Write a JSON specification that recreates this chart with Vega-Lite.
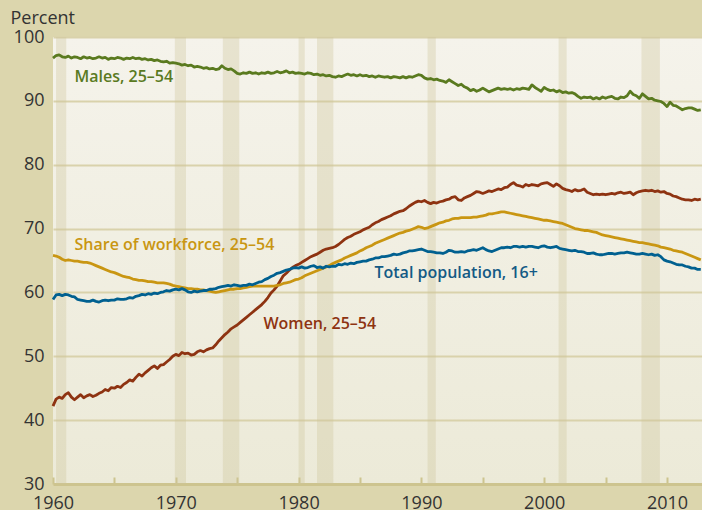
{
"$schema":"https://vega.github.io/schema/vega-lite/v6.json",
"width":649,"height":447,
"autosize":{"type":"none"},
"padding":{"left":53,"top":37,"right":0,"bottom":26},
"background":"#dcd6ad",
"config":{
 "view":{"stroke":null,"fill":{"gradient":"linear","x1":0,"y1":0,"x2":0,"y2":1,"stops":[{"offset":0,"color":"#f5f3eb"},{"offset":1,"color":"#ecead8"}]}},
 "axisY":{"grid":true,"gridColor":"#d9d2ab","gridWidth":2,"domain":false,"ticks":false,"labelFont":"Open Sans","labelFontSize":18,"labelColor":"#333333","labelPadding":9,"titleAngle":0,"titleAlign":"left","titleBaseline":"middle","titleX":-43,"titleY":-19,"titleFont":"Open Sans","titleFontSize":18,"titleFontWeight":"normal","titleColor":"#333333"},
 "axisX":{"grid":false,"domain":true,"domainColor":"#cdc48f","domainWidth":3,"ticks":true,"tickSize":-7,"tickWidth":2,"tickColor":"#cdc48f","labelFont":"Open Sans","labelFontSize":18,"labelColor":"#333333","labelPadding":17,"labelFlush":false,"labelBound":false,"labelOverlap":false,"title":null}
},
"data":{"values":[
{"t":1960,"m":96.7,"w":42.2,"s":65.8,"p":58.9},{"t":1960.25,"m":97.1,"w":43.3,"s":65.7,"p":59.6},{"t":1960.5,"m":97.2,"w":43.6,"s":65.5,"p":59.7},{"t":1960.75,"m":96.9,"w":43.4,"s":65.2,"p":59.5},
{"t":1961,"m":96.8,"w":44.0,"s":65.0,"p":59.7},{"t":1961.25,"m":97.0,"w":44.3,"s":65.1,"p":59.6},{"t":1961.5,"m":96.7,"w":43.6,"s":65.0,"p":59.4},{"t":1961.75,"m":96.9,"w":43.2,"s":64.9,"p":59.3},
{"t":1962,"m":96.8,"w":43.6,"s":64.9,"p":58.9},{"t":1962.25,"m":96.6,"w":44.0,"s":64.8,"p":58.8},{"t":1962.5,"m":96.9,"w":43.5,"s":64.7,"p":58.7},{"t":1962.75,"m":96.7,"w":43.8,"s":64.7,"p":58.6},
{"t":1963,"m":96.8,"w":44.0,"s":64.6,"p":58.6},{"t":1963.25,"m":96.6,"w":43.7,"s":64.4,"p":58.8},{"t":1963.5,"m":96.7,"w":43.9,"s":64.2,"p":58.6},{"t":1963.75,"m":96.9,"w":44.2,"s":64.0,"p":58.5},
{"t":1964,"m":96.7,"w":44.4,"s":63.8,"p":58.7},{"t":1964.25,"m":96.8,"w":44.8,"s":63.6,"p":58.8},{"t":1964.5,"m":96.5,"w":44.6,"s":63.4,"p":58.7},{"t":1964.75,"m":96.7,"w":45.1,"s":63.2,"p":58.8},
{"t":1965,"m":96.6,"w":45.0,"s":63.1,"p":58.8},{"t":1965.25,"m":96.8,"w":45.3,"s":62.9,"p":59.0},{"t":1965.5,"m":96.7,"w":45.1,"s":62.7,"p":58.9},{"t":1965.75,"m":96.5,"w":45.6,"s":62.5,"p":58.9},
{"t":1966,"m":96.7,"w":45.9,"s":62.4,"p":59.0},{"t":1966.25,"m":96.6,"w":46.3,"s":62.3,"p":59.2},{"t":1966.5,"m":96.8,"w":46.1,"s":62.1,"p":59.1},{"t":1966.75,"m":96.6,"w":46.7,"s":62.0,"p":59.4},
{"t":1967,"m":96.7,"w":47.2,"s":61.9,"p":59.5},{"t":1967.25,"m":96.5,"w":46.9,"s":61.9,"p":59.7},{"t":1967.5,"m":96.6,"w":47.4,"s":61.8,"p":59.6},{"t":1967.75,"m":96.4,"w":47.8,"s":61.7,"p":59.8},
{"t":1968,"m":96.5,"w":48.2,"s":61.7,"p":59.7},{"t":1968.25,"m":96.3,"w":48.5,"s":61.6,"p":59.9},{"t":1968.5,"m":96.4,"w":48.1,"s":61.5,"p":59.8},{"t":1968.75,"m":96.2,"w":48.6,"s":61.5,"p":60.0},
{"t":1969,"m":96.1,"w":48.7,"s":61.5,"p":60.1},{"t":1969.25,"m":96.2,"w":49.1,"s":61.4,"p":60.3},{"t":1969.5,"m":95.9,"w":49.5,"s":61.3,"p":60.2},{"t":1969.75,"m":96.0,"w":50.0,"s":61.1,"p":60.4},
{"t":1970,"m":95.9,"w":50.3,"s":61.0,"p":60.5},{"t":1970.25,"m":95.8,"w":50.1,"s":60.9,"p":60.4},{"t":1970.5,"m":95.6,"w":50.6,"s":60.8,"p":60.6},{"t":1970.75,"m":95.7,"w":50.4,"s":60.7,"p":60.4},
{"t":1971,"m":95.5,"w":50.5,"s":60.6,"p":60.1},{"t":1971.25,"m":95.6,"w":50.2,"s":60.6,"p":60.0},{"t":1971.5,"m":95.3,"w":50.3,"s":60.5,"p":60.2},{"t":1971.75,"m":95.4,"w":50.7,"s":60.5,"p":60.1},
{"t":1972,"m":95.3,"w":50.9,"s":60.4,"p":60.2},{"t":1972.25,"m":95.1,"w":50.7,"s":60.4,"p":60.3},{"t":1972.5,"m":95.2,"w":51.0,"s":60.3,"p":60.3},{"t":1972.75,"m":95.0,"w":51.2,"s":60.2,"p":60.5},
{"t":1973,"m":95.1,"w":51.3,"s":60.1,"p":60.5},{"t":1973.25,"m":94.9,"w":51.8,"s":60.0,"p":60.6},{"t":1973.5,"m":95.0,"w":52.4,"s":60.1,"p":60.8},{"t":1973.75,"m":95.5,"w":52.9,"s":60.2,"p":60.9},
{"t":1974,"m":95.1,"w":53.4,"s":60.3,"p":61.0},{"t":1974.25,"m":94.9,"w":53.8,"s":60.4,"p":61.1},{"t":1974.5,"m":95.0,"w":54.3,"s":60.5,"p":61.0},{"t":1974.75,"m":94.7,"w":54.6,"s":60.5,"p":61.2},
{"t":1975,"m":94.3,"w":54.9,"s":60.6,"p":61.1},{"t":1975.25,"m":94.2,"w":55.3,"s":60.6,"p":61.0},{"t":1975.5,"m":94.4,"w":55.7,"s":60.7,"p":61.1},{"t":1975.75,"m":94.3,"w":56.1,"s":60.8,"p":61.1},
{"t":1976,"m":94.5,"w":56.5,"s":60.9,"p":61.3},{"t":1976.25,"m":94.3,"w":56.9,"s":61.0,"p":61.2},{"t":1976.5,"m":94.4,"w":57.3,"s":61.0,"p":61.4},{"t":1976.75,"m":94.2,"w":57.7,"s":61.0,"p":61.6},
{"t":1977,"m":94.4,"w":58.1,"s":61.0,"p":61.7},{"t":1977.25,"m":94.3,"w":58.6,"s":61.0,"p":62.0},{"t":1977.5,"m":94.5,"w":59.2,"s":61.0,"p":62.2},{"t":1977.75,"m":94.3,"w":59.9,"s":61.0,"p":62.5},
{"t":1978,"m":94.4,"w":60.4,"s":61.0,"p":62.7},{"t":1978.25,"m":94.6,"w":61.0,"s":61.1,"p":63.0},{"t":1978.5,"m":94.4,"w":61.8,"s":61.2,"p":63.1},{"t":1978.75,"m":94.5,"w":62.6,"s":61.4,"p":63.3},
{"t":1979,"m":94.7,"w":63.0,"s":61.5,"p":63.5},{"t":1979.25,"m":94.4,"w":63.5,"s":61.6,"p":63.6},{"t":1979.5,"m":94.5,"w":63.9,"s":61.8,"p":63.8},{"t":1979.75,"m":94.3,"w":64.2,"s":62.0,"p":63.9},
{"t":1980,"m":94.4,"w":64.4,"s":62.1,"p":63.8},{"t":1980.25,"m":94.3,"w":64.7,"s":62.3,"p":64.0},{"t":1980.5,"m":94.2,"w":65.0,"s":62.6,"p":63.8},{"t":1980.75,"m":94.4,"w":65.3,"s":62.8,"p":63.9},
{"t":1981,"m":94.3,"w":65.6,"s":63.0,"p":64.1},{"t":1981.25,"m":94.1,"w":65.8,"s":63.2,"p":64.2},{"t":1981.5,"m":94.2,"w":66.0,"s":63.4,"p":63.9},{"t":1981.75,"m":94.0,"w":66.3,"s":63.6,"p":64.0},
{"t":1982,"m":94.1,"w":66.6,"s":63.8,"p":63.8},{"t":1982.25,"m":93.9,"w":66.8,"s":64.0,"p":64.1},{"t":1982.5,"m":94.0,"w":66.9,"s":64.2,"p":64.0},{"t":1982.75,"m":93.8,"w":67.0,"s":64.5,"p":64.1},
{"t":1983,"m":93.7,"w":67.2,"s":64.7,"p":64.1},{"t":1983.25,"m":93.9,"w":67.5,"s":64.9,"p":64.4},{"t":1983.5,"m":93.8,"w":67.9,"s":65.1,"p":64.3},{"t":1983.75,"m":94.0,"w":68.3,"s":65.4,"p":64.5},
{"t":1984,"m":94.2,"w":68.6,"s":65.6,"p":64.4},{"t":1984.25,"m":94.0,"w":68.8,"s":65.8,"p":64.6},{"t":1984.5,"m":94.1,"w":69.1,"s":66.0,"p":64.5},{"t":1984.75,"m":93.9,"w":69.3,"s":66.2,"p":64.7},
{"t":1985,"m":94.1,"w":69.5,"s":66.5,"p":64.8},{"t":1985.25,"m":93.9,"w":69.8,"s":66.7,"p":64.9},{"t":1985.5,"m":94.0,"w":70.0,"s":67.0,"p":64.9},{"t":1985.75,"m":93.8,"w":70.2,"s":67.2,"p":65.1},
{"t":1986,"m":93.9,"w":70.6,"s":67.4,"p":65.2},{"t":1986.25,"m":93.7,"w":70.9,"s":67.7,"p":65.4},{"t":1986.5,"m":93.9,"w":71.1,"s":67.9,"p":65.4},{"t":1986.75,"m":93.8,"w":71.4,"s":68.1,"p":65.6},
{"t":1987,"m":93.7,"w":71.6,"s":68.3,"p":65.6},{"t":1987.25,"m":93.8,"w":71.8,"s":68.5,"p":65.7},{"t":1987.5,"m":93.6,"w":72.0,"s":68.7,"p":65.8},{"t":1987.75,"m":93.8,"w":72.3,"s":68.9,"p":66.0},
{"t":1988,"m":93.7,"w":72.5,"s":69.1,"p":65.9},{"t":1988.25,"m":93.6,"w":72.7,"s":69.3,"p":66.0},{"t":1988.5,"m":93.8,"w":72.8,"s":69.4,"p":66.2},{"t":1988.75,"m":93.6,"w":73.1,"s":69.6,"p":66.3},
{"t":1989,"m":93.8,"w":73.5,"s":69.7,"p":66.5},{"t":1989.25,"m":93.7,"w":73.8,"s":69.9,"p":66.5},{"t":1989.5,"m":93.9,"w":74.1,"s":70.1,"p":66.6},{"t":1989.75,"m":94.1,"w":74.3,"s":70.3,"p":66.7},
{"t":1990,"m":94.0,"w":74.2,"s":70.2,"p":66.8},{"t":1990.25,"m":93.6,"w":74.4,"s":70.0,"p":66.6},{"t":1990.5,"m":93.4,"w":74.1,"s":70.1,"p":66.4},{"t":1990.75,"m":93.5,"w":73.9,"s":70.3,"p":66.4},
{"t":1991,"m":93.3,"w":74.1,"s":70.5,"p":66.3},{"t":1991.25,"m":93.4,"w":74.0,"s":70.7,"p":66.2},{"t":1991.5,"m":93.2,"w":74.2,"s":70.9,"p":66.2},{"t":1991.75,"m":93.1,"w":74.3,"s":71.0,"p":66.1},
{"t":1992,"m":92.9,"w":74.5,"s":71.2,"p":66.3},{"t":1992.25,"m":93.3,"w":74.6,"s":71.3,"p":66.6},{"t":1992.5,"m":93.0,"w":74.9,"s":71.5,"p":66.5},{"t":1992.75,"m":92.7,"w":75.0,"s":71.6,"p":66.3},
{"t":1993,"m":92.4,"w":74.5,"s":71.6,"p":66.3},{"t":1993.25,"m":92.6,"w":74.4,"s":71.7,"p":66.4},{"t":1993.5,"m":92.2,"w":74.8,"s":71.7,"p":66.3},{"t":1993.75,"m":92.0,"w":75.0,"s":71.7,"p":66.5},
{"t":1994,"m":91.6,"w":75.2,"s":71.7,"p":66.6},{"t":1994.25,"m":91.8,"w":75.5,"s":71.8,"p":66.7},{"t":1994.5,"m":91.5,"w":75.8,"s":71.8,"p":66.6},{"t":1994.75,"m":91.7,"w":75.7,"s":71.9,"p":66.8},
{"t":1995,"m":92.0,"w":75.5,"s":72.0,"p":67.0},{"t":1995.25,"m":91.7,"w":75.7,"s":72.1,"p":66.7},{"t":1995.5,"m":91.4,"w":75.9,"s":72.3,"p":66.5},{"t":1995.75,"m":91.6,"w":75.8,"s":72.3,"p":66.4},
{"t":1996,"m":91.8,"w":76.0,"s":72.4,"p":66.6},{"t":1996.25,"m":92.0,"w":76.2,"s":72.5,"p":66.8},{"t":1996.5,"m":91.8,"w":76.1,"s":72.6,"p":67.0},{"t":1996.75,"m":91.9,"w":76.4,"s":72.6,"p":67.0},
{"t":1997,"m":91.8,"w":76.5,"s":72.5,"p":67.1},{"t":1997.25,"m":91.9,"w":76.9,"s":72.4,"p":67.0},{"t":1997.5,"m":91.7,"w":77.2,"s":72.3,"p":67.2},{"t":1997.75,"m":91.9,"w":76.8,"s":72.2,"p":67.2},
{"t":1998,"m":91.8,"w":76.7,"s":72.1,"p":67.1},{"t":1998.25,"m":92.0,"w":76.5,"s":72.0,"p":67.2},{"t":1998.5,"m":91.9,"w":76.9,"s":71.9,"p":67.1},{"t":1998.75,"m":91.8,"w":76.7,"s":71.8,"p":67.2},
{"t":1999,"m":92.5,"w":76.9,"s":71.7,"p":67.2},{"t":1999.25,"m":92.1,"w":76.8,"s":71.6,"p":67.1},{"t":1999.5,"m":91.8,"w":76.7,"s":71.5,"p":67.0},{"t":1999.75,"m":91.5,"w":77.0,"s":71.4,"p":67.2},
{"t":2000,"m":92.1,"w":77.1,"s":71.3,"p":67.3},{"t":2000.25,"m":91.8,"w":77.2,"s":71.3,"p":67.1},{"t":2000.5,"m":91.6,"w":76.9,"s":71.2,"p":67.0},{"t":2000.75,"m":91.7,"w":76.6,"s":71.1,"p":67.1},
{"t":2001,"m":91.4,"w":77.0,"s":71.0,"p":67.2},{"t":2001.25,"m":91.6,"w":76.7,"s":70.9,"p":66.9},{"t":2001.5,"m":91.3,"w":76.3,"s":70.8,"p":66.8},{"t":2001.75,"m":91.4,"w":76.1,"s":70.6,"p":66.7},
{"t":2002,"m":91.2,"w":76.0,"s":70.4,"p":66.6},{"t":2002.25,"m":91.3,"w":75.8,"s":70.2,"p":66.5},{"t":2002.5,"m":91.1,"w":76.1,"s":70.0,"p":66.6},{"t":2002.75,"m":90.7,"w":75.9,"s":69.9,"p":66.4},
{"t":2003,"m":90.4,"w":76.0,"s":69.8,"p":66.4},{"t":2003.25,"m":90.6,"w":76.2,"s":69.7,"p":66.3},{"t":2003.5,"m":90.5,"w":75.7,"s":69.7,"p":66.1},{"t":2003.75,"m":90.6,"w":75.5,"s":69.6,"p":66.1},
{"t":2004,"m":90.3,"w":75.3,"s":69.5,"p":66.2},{"t":2004.25,"m":90.5,"w":75.4,"s":69.4,"p":66.0},{"t":2004.5,"m":90.3,"w":75.3,"s":69.2,"p":65.9},{"t":2004.75,"m":90.6,"w":75.4,"s":69.0,"p":65.9},
{"t":2005,"m":90.4,"w":75.3,"s":68.9,"p":66.0},{"t":2005.25,"m":90.6,"w":75.4,"s":68.8,"p":66.1},{"t":2005.5,"m":90.7,"w":75.5,"s":68.7,"p":66.1},{"t":2005.75,"m":90.4,"w":75.4,"s":68.6,"p":66.0},
{"t":2006,"m":90.3,"w":75.6,"s":68.5,"p":66.1},{"t":2006.25,"m":90.6,"w":75.7,"s":68.4,"p":66.2},{"t":2006.5,"m":90.5,"w":75.5,"s":68.3,"p":66.2},{"t":2006.75,"m":90.8,"w":75.6,"s":68.2,"p":66.3},
{"t":2007,"m":91.5,"w":75.7,"s":68.1,"p":66.2},{"t":2007.25,"m":91.0,"w":75.3,"s":68.0,"p":66.1},{"t":2007.5,"m":90.8,"w":75.6,"s":67.9,"p":66.0},{"t":2007.75,"m":90.4,"w":75.8,"s":67.8,"p":66.0},
{"t":2008,"m":91.1,"w":75.9,"s":67.8,"p":66.1},{"t":2008.25,"m":90.7,"w":76.0,"s":67.7,"p":66.0},{"t":2008.5,"m":90.3,"w":75.9,"s":67.6,"p":65.9},{"t":2008.75,"m":90.4,"w":76.0,"s":67.5,"p":66.0},
{"t":2009,"m":90.1,"w":75.8,"s":67.4,"p":65.8},{"t":2009.25,"m":90.0,"w":75.9,"s":67.3,"p":65.9},{"t":2009.5,"m":89.9,"w":75.7,"s":67.1,"p":65.6},{"t":2009.75,"m":89.6,"w":75.8,"s":67.0,"p":65.1},
{"t":2010,"m":89.1,"w":75.5,"s":66.9,"p":64.9},{"t":2010.25,"m":89.8,"w":75.4,"s":66.8,"p":64.8},{"t":2010.5,"m":89.3,"w":75.1,"s":66.6,"p":64.6},{"t":2010.75,"m":89.2,"w":75.0,"s":66.5,"p":64.4},
{"t":2011,"m":88.9,"w":74.8,"s":66.4,"p":64.3},{"t":2011.25,"m":88.6,"w":74.6,"s":66.3,"p":64.3},{"t":2011.5,"m":88.8,"w":74.5,"s":66.1,"p":64.1},{"t":2011.75,"m":88.9,"w":74.5,"s":65.9,"p":64.0},
{"t":2012,"m":88.9,"w":74.4,"s":65.7,"p":63.8},{"t":2012.25,"m":88.7,"w":74.6,"s":65.5,"p":63.8},{"t":2012.5,"m":88.5,"w":74.5,"s":65.3,"p":63.6},{"t":2012.75,"m":88.6,"w":74.6,"s":65.1,"p":63.6}
]},
"layer":[
 {"data":{"values":[
  {"start":1960.25,"end":1961.08},{"start":1969.92,"end":1970.83},{"start":1973.83,"end":1975.17},{"start":1980.0,"end":1980.5},
  {"start":1981.5,"end":1982.83},{"start":1990.5,"end":1991.17},{"start":2001.17,"end":2001.83},{"start":2007.92,"end":2009.42}]},
  "mark":{"type":"rect","color":"#cfc79a","opacity":0.35},
  "encoding":{"x":{"field":"start","type":"quantitative","scale":{"domain":[1960,2012.85],"nice":false,"zero":false},"axis":{"values":[1960,1965,1970,1975,1980,1985,1990,1995,2000,2005,2010],"format":"d","labelExpr":"datum.value % 10 === 0 ? datum.label : ''"}},"x2":{"field":"end"}}},
 {"mark":{"type":"line","color":"#5a7a1f","strokeWidth":2.8,"strokeJoin":"round"},
  "encoding":{"x":{"field":"t","type":"quantitative"},"y":{"field":"m","type":"quantitative","title":"Percent","scale":{"domain":[30,100],"nice":false,"zero":false},"axis":{"values":[30,40,50,60,70,80,90,100]}}}},
 {"mark":{"type":"line","color":"#8e3311","strokeWidth":2.8,"strokeJoin":"round"},
  "encoding":{"x":{"field":"t","type":"quantitative"},"y":{"field":"w","type":"quantitative","title":"Percent","scale":{"domain":[30,100],"nice":false,"zero":false},"axis":{"values":[30,40,50,60,70,80,90,100]}}}},
 {"mark":{"type":"line","color":"#c99612","strokeWidth":2.8,"strokeJoin":"round"},
  "encoding":{"x":{"field":"t","type":"quantitative"},"y":{"field":"s","type":"quantitative","title":"Percent","scale":{"domain":[30,100],"nice":false,"zero":false},"axis":{"values":[30,40,50,60,70,80,90,100]}}}},
 {"mark":{"type":"line","color":"#006090","strokeWidth":2.8,"strokeJoin":"round"},
  "encoding":{"x":{"field":"t","type":"quantitative"},"y":{"field":"p","type":"quantitative","title":"Percent","scale":{"domain":[30,100],"nice":false,"zero":false},"axis":{"values":[30,40,50,60,70,80,90,100]}}}},
 {"data":{"values":[
  {"label":"Males, 25–54","lx":1961.75,"ly":93.7,"k":"m"},
  {"label":"Share of workforce, 25–54","lx":1961.75,"ly":67.5,"k":"s"},
  {"label":"Women, 25–54","lx":1977.14,"ly":55.0,"k":"w"},
  {"label":"Total population, 16+","lx":1986.18,"ly":63.1,"k":"p"}]},
  "mark":{"type":"text","align":"left","baseline":"middle","font":"Open Sans","fontSize":16,"fontWeight":600},
  "encoding":{"x":{"field":"lx","type":"quantitative"},"y":{"field":"ly","type":"quantitative","title":"Percent"},"text":{"field":"label"},
   "color":{"field":"k","type":"nominal","scale":{"domain":["m","w","s","p"],"range":["#5a7a1f","#8e3311","#c99612","#135a85"]},"legend":null}}}
]
}
